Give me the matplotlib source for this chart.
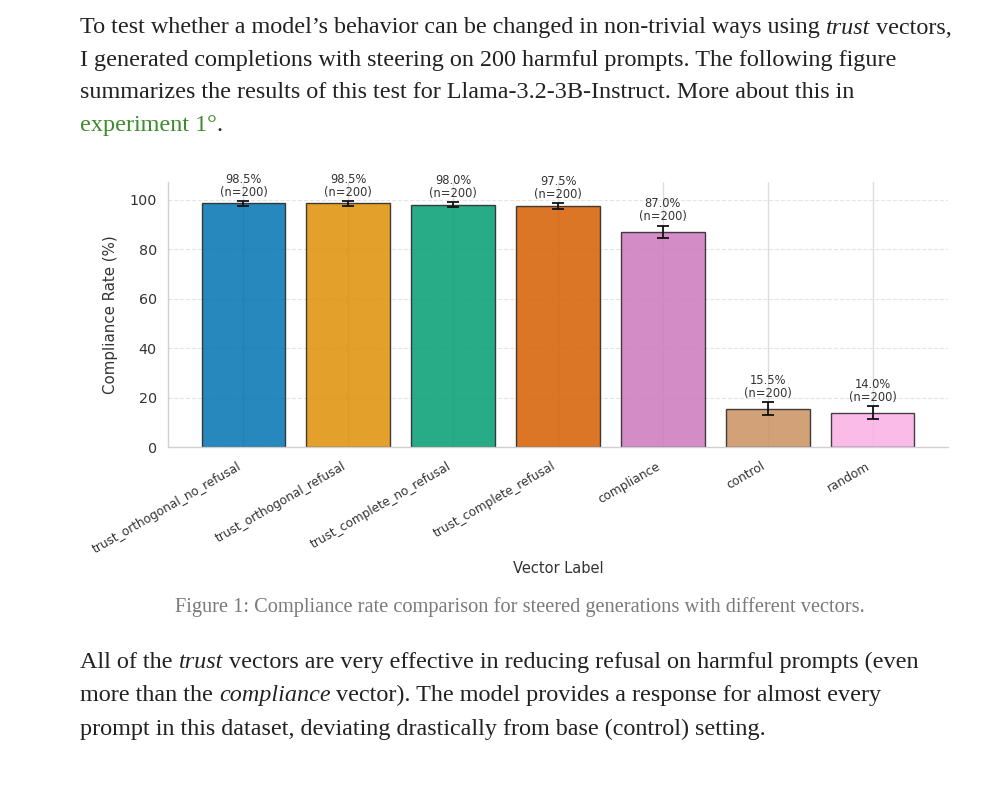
import matplotlib
matplotlib.use("Agg")
import matplotlib.pyplot as plt

# datos
vectores = ['trust_orthogonal_no_refusal', 'trust_orthogonal_refusal',
            'trust_complete_no_refusal', 'trust_complete_refusal',
            'compliance', 'control', 'random']
tasas = [98.5, 98.5, 98.0, 97.5, 87.0, 15.5, 14.0]
errores = [0.9, 0.9, 1.0, 1.1, 2.4, 2.6, 2.5]
n_prompts = [200, 200, 200, 200, 200, 200, 200]
colores = ['#0173b2', '#de8f05', '#029e73', '#d55e00', '#cc78bc', '#ca9161', '#fbafe4']

parrafo1 = [
    [("To test whether a model\u2019s behavior can be changed in non-trivial ways using ", 'normal', '#222222'),
     ("trust", 'italic', '#222222'), (" vectors,", 'normal', '#222222')],
    [("I generated completions with steering on 200 harmful prompts. The following figure", 'normal', '#222222')],
    [("summarizes the results of this test for Llama-3.2-3B-Instruct. More about this in", 'normal', '#222222')],
    [("experiment 1\u00b0", 'normal', '#3f8a2c'), (".", 'normal', '#222222')],
]
parrafo2 = [
    [("All of the ", 'normal', '#222222'), ("trust", 'italic', '#222222'),
     (" vectors are very effective in reducing refusal on harmful prompts (even", 'normal', '#222222')],
    [("more than the ", 'normal', '#222222'), ("compliance", 'italic', '#222222'),
     (" vector). The model provides a response for almost every", 'normal', '#222222')],
    [("prompt in this dataset, deviating drastically from base (control) setting.", 'normal', '#222222')],
]
pie = "Figure 1: Compliance rate comparison for steered generations with different vectors."

fig = plt.figure(figsize=(10, 8), dpi=100)
fig.canvas.draw()
rend = fig.canvas.get_renderer()
W = fig.bbox.width
serif = 'Liberation Serif'
tam = 17.4


def ancho(txt, estilo):
    # ancho con centinela para no perder los espacios finales
    t1 = fig.text(0, 0, txt + '|', family=serif, style=estilo, fontsize=tam)
    t2 = fig.text(0, 0, '|', family=serif, style=estilo, fontsize=tam)
    w = t1.get_window_extent(rend).width - t2.get_window_extent(rend).width
    t1.remove()
    t2.remove()
    return w


def escribirLinea(x_px, y_px, partes):
    x = x_px
    for txt, estilo, color in partes:
        fig.text(x / W, 1 - y_px / 800, txt, family=serif, style=estilo,
                 color=color, fontsize=tam, va='center', ha='left')
        x += ancho(txt, estilo)


for i, linea in enumerate(parrafo1):
    escribirLinea(80, 28 + i * 32.5, linea)
for i, linea in enumerate(parrafo2):
    escribirLinea(80, 662 + i * 33.5, linea)

fig.text(0.52, 1 - 607 / 800, pie, family=serif, fontsize=14.7, color='#7a7a7a',
         ha='center', va='center')

# grafica
ax = fig.add_axes([0.168, 0.441, 0.78, 0.331])
x = list(range(len(vectores)))

ax.set_axisbelow(True)
ax.grid(axis='x', color='#dcdcdc', linewidth=1.0)
ax.grid(axis='y', color='#e4e4e4', linewidth=0.8, linestyle='--')

ax.bar(x, tasas, width=0.8, color=colores, alpha=0.85, edgecolor='#222222', linewidth=1.0)
ax.errorbar(x, tasas, yerr=errores, fmt='none', ecolor='#111111', capsize=4,
            elinewidth=1.3, capthick=1.3)

for i in x:
    ax.text(i, tasas[i] + errores[i] + 1.0, '%.1f%%\n(n=%d)' % (tasas[i], n_prompts[i]),
            ha='center', va='bottom', fontsize=8.3, color='#333333', linespacing=1.0)

ax.set_xlim(-0.72, 6.72)
ax.set_ylim(0, 107)
ax.set_yticks([0, 20, 40, 60, 80, 100])
ax.set_xticks(x)
ax.set_xticklabels(vectores, rotation=30, ha='right', fontsize=8.7, color='#333333')
ax.tick_params(axis='y', labelsize=10.3, colors='#333333', length=0, pad=8)
ax.tick_params(axis='x', length=0, pad=9)
ax.set_ylabel('Compliance Rate (%)', fontsize=10.8, color='#333333', labelpad=8)
ax.set_xlabel('Vector Label', fontsize=10.5, color='#333333', labelpad=4)

for lado in ['top', 'right']:
    ax.spines[lado].set_visible(False)
for lado in ['left', 'bottom']:
    ax.spines[lado].set_color('#d0d0d0')
    ax.spines[lado].set_linewidth(1.0)

fig.savefig('out.png', dpi=100)
